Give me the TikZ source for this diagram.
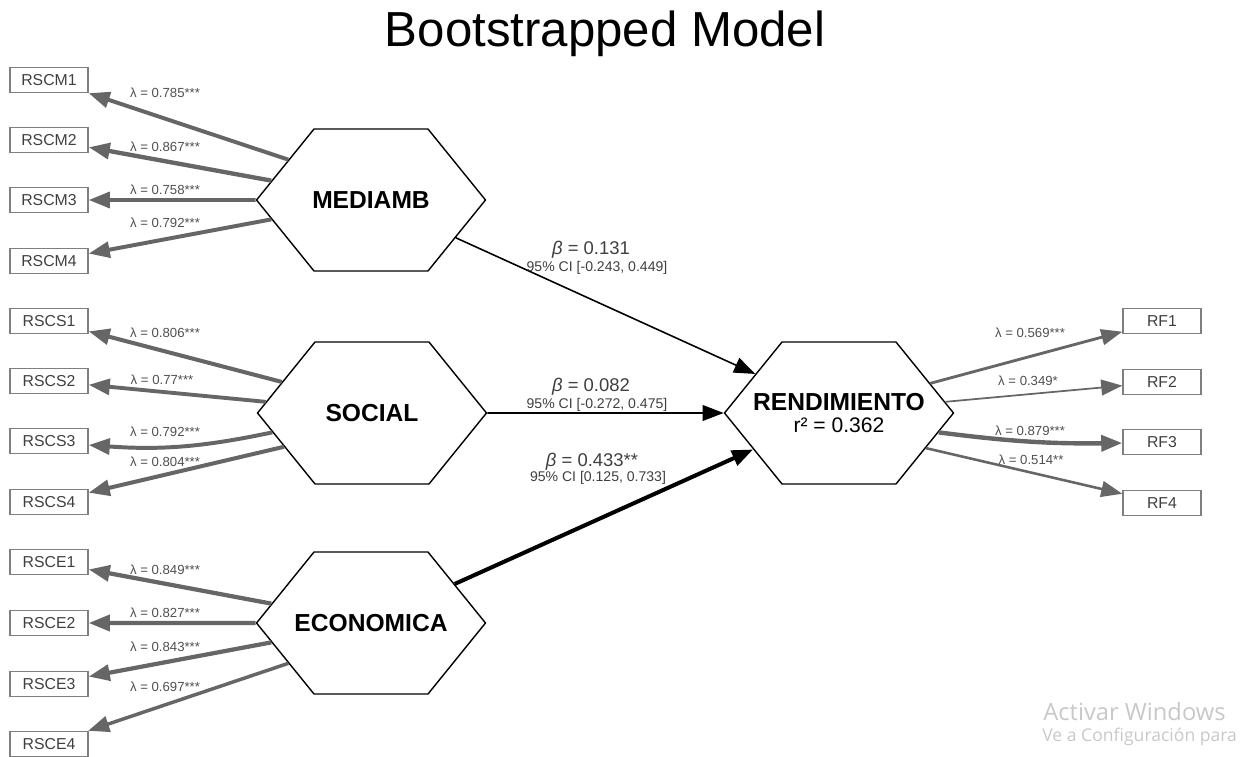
\documentclass[tikz,border=0pt]{standalone}
\usepackage{fontspec}
\setmainfont{Liberation Sans}
\newfontfamily\winfont{Open Sans}
\usetikzlibrary{arrows.meta,shapes.symbols}
\definecolor{loadgray}{HTML}{666666}
\definecolor{boxgray}{HTML}{7F7F7F}
\definecolor{textgray}{HTML}{3F3F3F}
\definecolor{labgray}{HTML}{505050}
\definecolor{wingray}{HTML}{C8C8C8}
\begin{document}
\begin{tikzpicture}[x=0.02cm, y=-0.02cm,
  indicator/.style={draw=boxgray, line width=0.8pt, text=textgray, font=\fontsize{9}{10}\selectfont, minimum width=1.56cm, minimum height=0.5cm, inner sep=0pt},
  construct/.style={draw=black, line width=0.8pt, fill=white, signal, signal to=west and east, signal pointer angle=102, minimum width=4.58cm, minimum height=2.84cm, inner sep=0pt, font=\bfseries\fontsize{14}{16}\selectfont},
  loading/.style={draw=loadgray, line width=#1*2.85pt, -{Triangle[length=12pt,width=9pt]}},
  effect/.style={draw=black, line width=#1, -{Triangle[length=12pt,width=9pt]}},
  lab/.style={font=\fontsize{7.5}{8}\selectfont, text=labgray, inner sep=0pt},
  betalab/.style={font=\fontsize{10.5}{12}\selectfont, text=textgray, inner sep=0pt},
  cilab/.style={font=\fontsize{8}{9}\selectfont, text=textgray, inner sep=0pt}]
\useasboundingbox (0,0) rectangle (1244,757);

\node[font=\fontsize{28}{30}\selectfont, anchor=base] (title) at (605,47) {Bootstrapped Model};

\node[construct] (mediamb) at (371,200) {\makebox[0pt]{MEDIAMB}};
\node[construct] (social) at (372,413) {\makebox[0pt]{SOCIAL}};
\node[construct] (economica) at (371,623) {\makebox[0pt]{ECONOMICA}};
\node[construct, align=center] (rendimiento) at (839,413) {\makebox[0pt]{RENDIMIENTO}\\[-3pt]\makebox[0pt]{\mdseries\fontsize{12}{13}\selectfont r² = 0.362}};

\node[indicator] (rscm1) at (49,80) {RSCM1};
\node[indicator] (rscm2) at (49,140) {RSCM2};
\node[indicator] (rscm3) at (49,200) {RSCM3};
\node[indicator] (rscm4) at (49,261) {RSCM4};

\node[indicator] (rscs1) at (49,321) {RSCS1};
\node[indicator] (rscs2) at (49,381) {RSCS2};
\node[indicator] (rscs3) at (49,441) {RSCS3};
\node[indicator] (rscs4) at (49,502) {RSCS4};

\node[indicator] (rsce1) at (49,562) {RSCE1};
\node[indicator] (rsce2) at (49,623) {RSCE2};
\node[indicator] (rsce3) at (49,684) {RSCE3};
\node[indicator] (rsce4) at (49,744) {RSCE4};

\node[indicator] (rf1) at (1162,321) {RF1};
\node[indicator] (rf2) at (1162,382) {RF2};
\node[indicator] (rf3) at (1162,442) {RF3};
\node[indicator] (rf4) at (1162,503) {RF4};

\draw[loading=0.785] (mediamb.154) -- (rscm1);
\draw[loading=0.867] (mediamb.169) -- (rscm2);
\draw[loading=0.758] (mediamb.180) -- (rscm3);
\draw[loading=0.792] (mediamb.191) -- (rscm4);

\draw[loading=0.806] (social.161) -- (rscs1);
\draw[loading=0.77] (social.174) -- (rscs2);
\draw[loading=0.792] (social.191) to[bend left=8] (rscs3);
\draw[loading=0.804] (social.201) -- (rscs4);

\draw[loading=0.849] (economica.169) -- (rsce1);
\draw[loading=0.827] (economica.180) -- (rsce2);
\draw[loading=0.843] (economica.191) -- (rsce3);
\draw[loading=0.697] (economica.206) -- (rsce4);

\draw[loading=0.569] (rendimiento.18) -- (rf1);
\draw[loading=0.349] (rendimiento.6) -- (rf2);
\draw[loading=0.879] (rendimiento.-11) to[bend right=4] (rf3);
\draw[loading=0.514] (rendimiento.-22) -- (rf4);

\draw[effect=0.9pt] (mediamb.-24) -- (rendimiento.155);
\draw[effect=0.9pt] (social) -- (rendimiento);
\draw[effect=2.3pt] (economica.25) -- (rendimiento.203);

\node[lab] (lm1) at (165,93) {λ = 0.785***};
\node[lab] (lm2) at (165,147) {λ = 0.867***};
\node[lab] (lm3) at (165,190) {λ = 0.758***};
\node[lab] (lm4) at (165,223) {λ = 0.792***};

\node[lab] (ls1) at (165,333) {λ = 0.806***};
\node[lab] (ls2) at (162,380) {λ = 0.77***};
\node[lab] (ls3) at (165,432) {λ = 0.792***};
\node[lab] (ls4) at (165,462) {λ = 0.804***};

\node[lab] (le1) at (165,570) {λ = 0.849***};
\node[lab] (le2) at (165,613) {λ = 0.827***};
\node[lab] (le3) at (165,647) {λ = 0.843***};
\node[lab] (le4) at (165,687) {λ = 0.697***};

\node[lab] (lf1) at (1030,333) {λ = 0.569***};
\node[lab] (lf2) at (1028,381) {λ = 0.349*};
\node[lab] (lf3) at (1030,431) {λ = 0.879***};
\node[lab] (lf4) at (1031,460) {λ = 0.514**};

\node[betalab] (b1) at (591,250) {\textit{β} = 0.131};
\node[cilab] (ci1) at (597,268) {95\% CI [-0.243, 0.449]};
\node[betalab] (b2) at (591,387) {\textit{β} = 0.082};
\node[cilab] (ci2) at (597,405) {95\% CI [-0.272, 0.475]};
\node[betalab] (b3) at (592,462) {\textit{β} = 0.433**};
\node[cilab] (ci3) at (598,478) {95\% CI [0.125, 0.733]};

\node[font=\winfont\fontsize{13.5}{15}\selectfont, text=wingray, anchor=west, inner sep=0pt] (win1) at (1043,712) {Activar Windows};
\node[font=\winfont\fontsize{10}{12}\selectfont, text=wingray, anchor=west, inner sep=0pt] (win2) at (1042,737) {Ve a Configuración para};
\end{tikzpicture}
\end{document}
